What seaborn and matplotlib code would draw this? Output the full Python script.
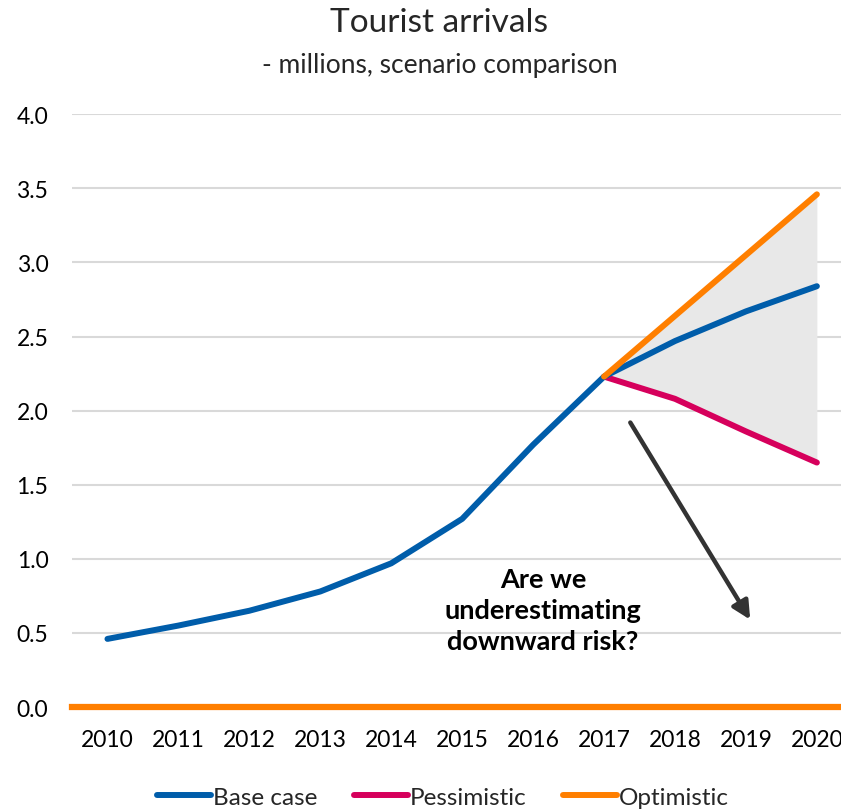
import matplotlib
matplotlib.use("Agg")
import matplotlib.pyplot as plt
import seaborn as sns
import pandas as pd
from matplotlib.lines import Line2D

years = list(range(2010, 2021))
base_case = [0.46, 0.55, 0.65, 0.78, 0.97, 1.27, 1.77, 2.23, 2.47, 2.67, 2.84]
scenario_years = [2017, 2018, 2019, 2020]
pessimistic = [2.23, 2.08, 1.86, 1.65]
optimistic = [2.23, 2.64, 3.05, 3.46]
y_ticks = [0.0, 0.5, 1.0, 1.5, 2.0, 2.5, 3.0, 3.5, 4.0]

BLUE = "#005DAA"
PINK = "#D6005C"
ORANGE = "#FF7F00"
GRID = "#D9D9D9"

sns.set_theme(style="white")
plt.rcParams["font.family"] = ["Lato", "DejaVu Sans"]

base_df = pd.DataFrame({"year": years, "value": base_case})
scen_df = pd.DataFrame({"year": scenario_years, "pess": pessimistic, "opt": optimistic})

fig = plt.figure(figsize=(8.41, 8.12), dpi=100)
ax = fig.add_axes([0.0856, 0.128, 1.0 - 0.0856, 0.730])

# uncertainty band between the two scenarios
ax.fill_between(scen_df["year"], scen_df["pess"], scen_df["opt"],
                color="#E8E8E8", lw=0, zorder=1)

sns.lineplot(data=scen_df, x="year", y="pess", color=PINK, lw=4.3, ax=ax,
             zorder=3, solid_capstyle="round")
sns.lineplot(data=base_df, x="year", y="value", color=BLUE, lw=4.3, ax=ax,
             zorder=4, solid_capstyle="round")
sns.lineplot(data=scen_df, x="year", y="opt", color=ORANGE, lw=4.3, ax=ax,
             zorder=5, solid_capstyle="round")

ax.set_xlim(2009.5, 2020.34)
ax.set_ylim(0, 4.0)
ax.set_yticks(y_ticks)
ax.set_yticklabels([f"{v:.1f}" for v in y_ticks])
ax.set_xticks(years)
ax.set_xticklabels([str(y) for y in years])
ax.yaxis.grid(True, color=GRID, lw=1.5, zorder=0)
ax.set_axisbelow(True)
ax.set_xlabel("")
ax.set_ylabel("")
for side in ["top", "right", "left"]:
    ax.spines[side].set_visible(False)
ax.spines["bottom"].set_color(ORANGE)
ax.spines["bottom"].set_linewidth(4.5)
ax.spines["bottom"].set_zorder(6)
ax.tick_params(axis="both", length=0, labelsize=16.5, colors="black")
ax.tick_params(axis="x", pad=16)
ax.tick_params(axis="y", pad=17)

# annotation
ax.annotate("", xy=(2019.06, 0.59), xytext=(2017.37, 1.92),
            arrowprops=dict(arrowstyle="-|>,head_length=0.9,head_width=0.45",
                            color="#333333", lw=3.2, shrinkA=0, shrinkB=0),
            zorder=7)
ax.text(2016.14, 0.655, "Are we\nunderestimating\ndownward risk?",
        ha="center", va="center", multialignment="center",
        fontsize=19.5, fontweight="bold", color="black", linespacing=1.36,
        zorder=7)

fig.text(0.522, 0.972, "Tourist arrivals", ha="center", va="center", fontsize=24)
fig.text(0.523, 0.919, "- millions, scenario comparison", ha="center", va="center",
         fontsize=19)

handles = [Line2D([], [], color=c, lw=4.3, solid_capstyle="round")
           for c in (BLUE, PINK, ORANGE)]
fig.legend(handles, ["Base case", "Pessimistic", "Optimistic"],
           loc="center", bbox_to_anchor=(0.527, 0.017), ncol=3, frameon=False,
           fontsize=17.5, handlelength=2.2, handletextpad=0.1, columnspacing=1.5)

fig.savefig("out.png", dpi=100)
